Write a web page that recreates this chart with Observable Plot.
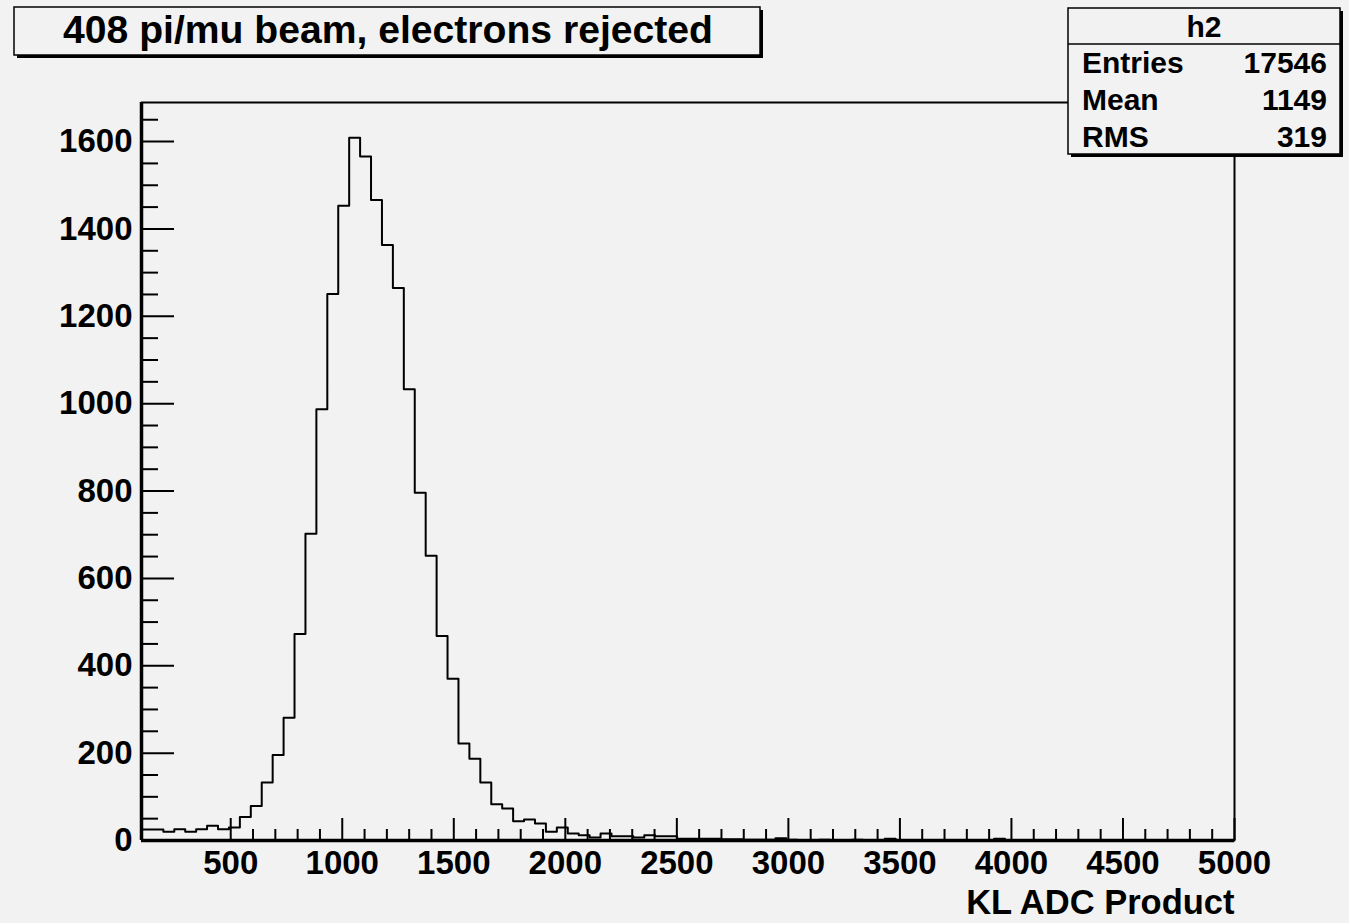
<!DOCTYPE html>
<html><head><meta charset="utf-8">
<script src="https://cdn.jsdelivr.net/npm/d3@7"></script>
<script src="https://cdn.jsdelivr.net/npm/@observablehq/plot@0.6"></script>
<style>
body{margin:0;background:#f2f2f2;}
</style>
</head><body><div id="chart"></div>
<script>
const histTitle = "408 pi/mu beam, electrons rejected";
const xAxisLabel = "KL ADC Product";
const histName = "h2";
const statLabels = ["Entries", "Mean", "RMS"];
const statValues = ["17546", "1149", "319"];
const xMin = 100, xMax = 5000, binWidth = 49;
const counts = [
  25, 25, 20, 26, 20, 26, 34, 26, 30, 54, 79,
  133, 196, 281, 473, 702, 987, 1251, 1453, 1609, 1566,
  1466, 1363, 1265, 1033, 796, 652, 468, 370, 222, 187,
  133, 83, 73, 44, 48, 39, 20, 30, 16, 12,
  7, 16, 10, 10, 7, 12, 10, 10, 4, 4,
  4, 4, 3, 3, 2, 2, 2, 5, 2, 1,
  1, 2, 1, 1, 2, 1, 1, 4, 1, 1,
  1, 0, 1, 1, 0, 1, 1, 4, 1, 0,
  0, 1, 0, 0, 1, 0, 0, 1, 0, 0,
  0, 0, 1, 0, 0, 0, 0, 0, 0
];
const xMajorTicks = [500, 1000, 1500, 2000, 2500, 3000, 3500, 4000, 4500, 5000];
const xMinorTicks = d3.range(600, 5000, 100).filter(v => v % 500 !== 0);
const yMajorTicks = [0, 200, 400, 600, 800, 1000, 1200, 1400, 1600];
const yMinorTicks = d3.range(50, 1700, 50).filter(v => v % 200 !== 0);

const yMax = 1.05 * d3.max(counts);
const bins = counts.map((c, i) => ({edge: xMin + i * binWidth, count: c}));
bins.push({edge: xMax, count: counts[counts.length - 1]});

const font = "'Liberation Sans', Arial, Helvetica, sans-serif";

const plot = Plot.plot({
  width: 1349,
  height: 923,
  marginLeft: 141,
  marginRight: 115,
  marginTop: 102,
  marginBottom: 83,
  style: {background: "#f2f2f2", fontFamily: font, fontWeight: "bold", fontSize: "33px", color: "black"},
  x: {domain: [xMin, xMax], label: null},
  y: {domain: [0, yMax], label: null},
  marks: [
    Plot.line(bins, {x: "edge", y: "count", curve: "step-after", stroke: "black", strokeWidth: 2}),
    Plot.axisY({anchor: "left", ticks: yMinorTicks, tickSize: -17, text: null, strokeWidth: 2}),
    Plot.axisY({anchor: "left", ticks: yMajorTicks, tickSize: -33, text: null, strokeWidth: 2}),
    Plot.axisY({anchor: "left", ticks: yMajorTicks, tickSize: 0, tickPadding: 9, tickFormat: "d", fontSize: 33}),
    Plot.axisX({anchor: "bottom", ticks: xMinorTicks, tickSize: -11, text: null, strokeWidth: 2}),
    Plot.axisX({anchor: "bottom", ticks: xMajorTicks, tickSize: -22, text: null, strokeWidth: 2}),
    Plot.axisX({anchor: "bottom", ticks: xMajorTicks, tickSize: 0, tickPadding: 10, tickFormat: "d", fontSize: 33}),
    Plot.ruleY([yMax], {stroke: "black", strokeWidth: 2}),
    Plot.ruleX([xMax], {stroke: "black", strokeWidth: 2}),
    Plot.ruleX([xMin], {stroke: "black", strokeWidth: 3.5}),
    Plot.ruleY([0], {stroke: "black", strokeWidth: 3.5}),
    Plot.text([xAxisLabel], {frameAnchor: "bottom-right", text: d => d, textAnchor: "end", lineAnchor: "bottom", dy: 73, fontSize: 34.5})
  ]
});
document.getElementById("chart").appendChild(plot);

const svg = d3.select(plot);
// Title box
const tb = svg.append("g");
tb.append("rect").attr("x", 17).attr("y", 10).attr("width", 746).attr("height", 48).attr("fill", "black");
tb.append("rect").attr("x", 14).attr("y", 7).attr("width", 746).attr("height", 48)
  .attr("fill", "#f2f2f2").attr("stroke", "black").attr("stroke-width", 1.5);
tb.append("text").attr("x", 388).attr("y", 43).attr("text-anchor", "middle")
  .attr("font-size", 38).attr("font-weight", "bold").attr("font-family", font)
  .attr("textLength", 650).attr("lengthAdjust", "spacingAndGlyphs").text(histTitle);

// Stats box
const sb = svg.append("g");
sb.append("rect").attr("x", 1071).attr("y", 11).attr("width", 272).attr("height", 146).attr("fill", "black");
sb.append("rect").attr("x", 1068).attr("y", 8).attr("width", 272).attr("height", 146)
  .attr("fill", "#f2f2f2").attr("stroke", "black").attr("stroke-width", 1.5);
sb.append("line").attr("x1", 1068).attr("x2", 1340).attr("y1", 44).attr("y2", 44)
  .attr("stroke", "black").attr("stroke-width", 1.5);
sb.append("text").attr("x", 1204).attr("y", 37).attr("text-anchor", "middle")
  .attr("font-size", 30).attr("font-weight", "bold").attr("font-family", font).text(histName);
const rowY = [73, 110, 147];
statLabels.forEach((lab, i) => {
  sb.append("text").attr("x", 1082).attr("y", rowY[i]).attr("text-anchor", "start").attr("font-size", 30)
    .attr("font-weight", "bold").attr("font-family", font).text(lab);
  sb.append("text").attr("x", 1327).attr("y", rowY[i]).attr("text-anchor", "end").attr("font-size", 30)
    .attr("font-weight", "bold").attr("font-family", font).text(statValues[i]);
});
</script>
</body></html>
